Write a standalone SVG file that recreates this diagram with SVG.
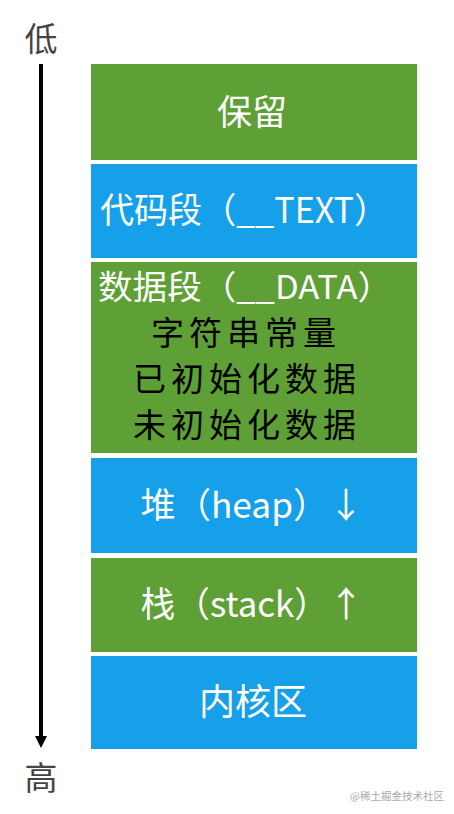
<svg xmlns="http://www.w3.org/2000/svg" width="454" height="814" viewBox="0 0 454 814">
<style>
.g{fill:#5EA036}.b{fill:#16A0E9}
text{font-family:"Noto Sans CJK SC","Noto Sans",sans-serif;text-anchor:middle}
.w{fill:#fff;font-size:35px}
.k{fill:#000;font-size:33px;letter-spacing:5px}
.axis{fill:#444;font-size:33px}
</style>
<defs>
<marker id="ah" markerWidth="3" markerHeight="3" refX="0.5" refY="1.5" orient="auto" markerUnits="strokeWidth"><path d="M0,0 L3,1.5 L0,3 Z" fill="#000"/></marker>
</defs>
<rect width="454" height="814" fill="#fff"/>
<g id="axis-labels">
<text class="axis" x="41" y="51">低</text>
<text class="axis" x="41" y="790">高</text>
</g>
<g id="connectors">
<line x1="41" y1="64" x2="41" y2="738" stroke="#000" stroke-width="4" marker-end="url(#ah)"/>
</g>
<g id="reserved"><rect class="g" x="91" y="64" width="326" height="96"/><text class="w" x="252" y="125">保留</text></g>
<g id="text-seg"><rect class="b" x="91" y="164" width="326" height="94"/><text class="w" x="244" y="223" textLength="288" lengthAdjust="spacingAndGlyphs">代码段（__TEXT）</text></g>
<g id="data-seg"><rect class="g" x="91" y="262" width="326" height="191"/>
<text class="w" x="245" y="299" style="font-size:33px" textLength="294" lengthAdjust="spacingAndGlyphs">数据段（__DATA）</text>
<text class="k" x="246" y="345">字符串常量</text>
<text class="k" x="247" y="391">已初始化数据</text>
<text class="k" x="247" y="437">未初始化数据</text>
</g>
<g id="heap"><rect class="b" x="91" y="458" width="326" height="95"/><text class="w" x="252" y="518" textLength="223" lengthAdjust="spacingAndGlyphs">堆（heap）↓</text></g>
<g id="stack"><rect class="g" x="91" y="558" width="326" height="94"/><text class="w" x="252" y="617" textLength="223" lengthAdjust="spacingAndGlyphs">栈（stack）↑</text></g>
<g id="kernel"><rect class="b" x="91" y="656" width="326" height="93"/><text class="w" x="253" y="715" style="font-size:36px">内核区</text></g>
<text x="397" y="800" style="fill:#aaa;font-size:10.5px">@稀土掘金技术社区</text>
</svg>
